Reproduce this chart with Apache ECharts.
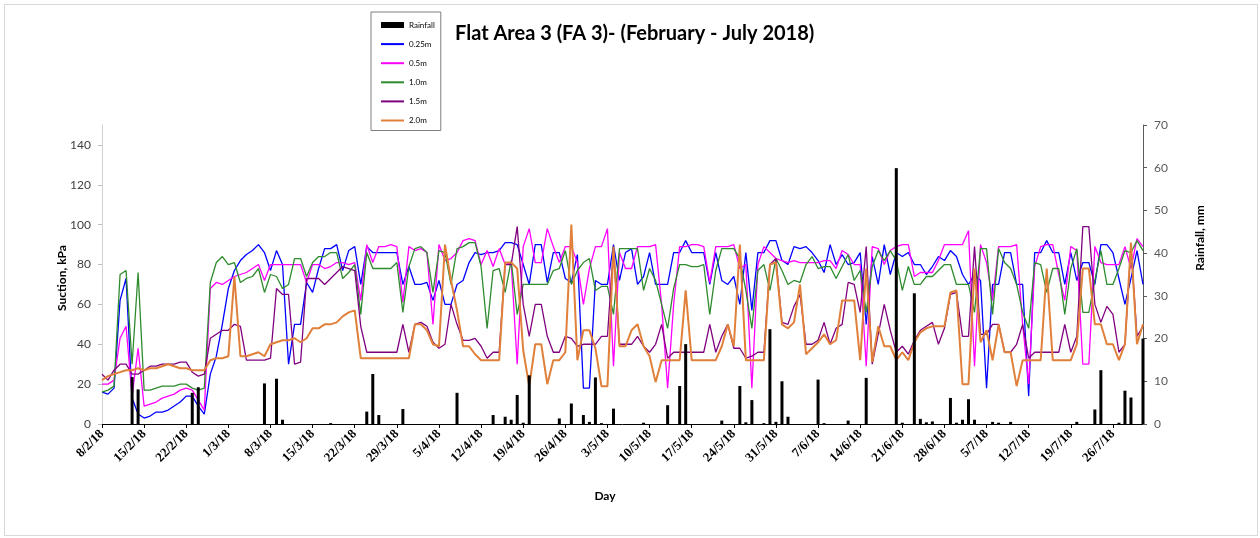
<!DOCTYPE html>
<html><head><meta charset="utf-8">
<script src="https://cdn.jsdelivr.net/npm/echarts@6/dist/echarts.min.js"></script>
<style>
html,body{margin:0;padding:0;background:#fff}
#c{width:1260px;height:538px}
#f{position:absolute;left:4px;top:4px;width:1252px;height:530px;border:1px solid #d9d9d9;pointer-events:none}
</style>
</head><body><div id="c"></div><div id="f"></div>
<script>
// month, first day, last day  (8/2/18 .. 31/7/18)
const monthSpans = [[2,8,28],[3,1,31],[4,1,30],[5,1,31],[6,1,30],[7,1,31]];
const days = [];
monthSpans.forEach(function(m){ for(let d=m[1]; d<=m[2]; d++) days.push(d+'/'+m[0]+'/18'); });

const rainfall = [
0,0,0,0,0,11,8.1,0,0,0,
0,0,0,0,0,7.3,8.6,0,0,0,
0,0,0,0,0,0,0,9.5,0,10.6,
1,0,0,0,0,0,0,0,0.2,0,
0,0,0,0,2.9,11.7,2.1,0,0,0,
3.5,0,0,0,0,0,0,0,0,7.3,
0,0,0,0,0,2.1,0,1.7,1,6.8,
0.3,11.4,0,0,0,0,1.3,0,4.8,0,
2.1,0.5,10.9,0.2,0,3.6,0,0,0,0,
0.3,0,0,0,4.4,0,8.9,18.7,0,0,
0,0,0,0.8,0,0,8.9,0.4,5.6,0,
0.2,22.2,0.5,10,1.7,0,0,0,0,10.4,
0.2,0,0,0,0.8,0,0,10.8,0,0,
0,0,59.9,0.3,0,30.6,1.2,0.4,0.6,0,
0,6.1,0.3,1,5.8,1,0,0,0.5,0.3,
0,0.5,0,0,0,0,0,0,0,0,
0,0,0.5,0,0,3.4,12.6,0,0,0.3,
7.8,6.2,0,20];

const s025 = [
16,15,18,62,73,13,5,3,4,6,
6,7,9,11,14,14,9,5,25,34,
50,68,77,82,85,87,90,86,77,87,
80,30,50,50,71,66,78,88,88,90,
77,87,89,70,89,86,86,86,86,86,
70,79,70,70,71,62,72,60,60,70,
72,81,86,85,86,86,87,91,91,90,
80,70,90,90,71,86,86,73,71,85,
18,18,72,70,70,90,72,86,88,70,
74,86,70,70,70,86,86,92,86,86,
86,70,86,72,70,74,60,86,57,86,
86,92,92,82,80,89,88,89,86,82,
76,90,80,85,80,81,86,50,84,70,
90,75,86,84,86,80,80,75,79,84,
82,87,84,75,70,75,72,18,70,70,
86,86,70,70,14,86,86,92,86,86,
70,86,72,81,81,70,90,90,86,73,
60,73,87,70];

const s05 = [
20,20,22,43,49,14,38,9,10,11,
13,14,15,17,18,17,12,7,68,71,
70,72,74,75,76,78,80,72,80,80,
80,80,80,80,71,80,80,78,79,81,
81,80,81,62,90,81,89,89,90,89,
61,89,87,88,86,50,90,82,83,86,
92,93,92,80,87,79,88,80,81,30,
89,98,81,81,98,89,81,89,89,81,
60,78,89,89,98,29,86,78,78,89,
89,89,90,60,18,60,89,89,90,90,
89,71,89,89,89,90,78,80,18,80,
89,86,83,82,81,82,81,81,81,81,
82,82,78,87,85,80,80,29,89,88,
80,87,89,90,90,74,76,76,76,82,
90,90,90,90,97,29,90,81,62,89,
89,89,90,50,20,79,89,90,90,75,
62,89,87,30,30,89,81,80,80,80,
89,78,93,89];

const s10 = [
16,17,19,75,77,30,76,17,17,18,
19,19,19,20,20,18,17,18,71,81,
84,80,81,71,73,74,78,66,75,74,
68,70,83,83,74,81,84,84,86,86,
73,76,80,55,86,78,78,78,78,81,
56,79,88,89,86,66,87,86,70,88,
89,91,91,79,48,77,78,66,82,55,
70,70,70,70,70,77,78,87,70,77,
81,83,67,69,69,55,88,88,88,88,
67,78,72,60,48,68,80,80,79,79,
80,55,77,88,88,88,83,67,48,77,
80,67,83,77,70,72,71,80,84,78,
79,79,73,79,85,72,77,56,79,87,
82,87,82,67,79,70,70,74,74,77,
80,80,70,70,70,56,88,88,55,88,
81,78,70,56,48,81,80,66,78,78,
55,78,88,56,56,72,87,70,70,78,
87,86,92,87];

const s15 = [
25,22,27,30,30,25,25,27,29,29,
30,30,30,31,31,26,24,25,43,45,
47,47,50,49,32,32,32,32,33,68,
65,65,30,31,73,73,73,70,73,76,
79,78,77,49,36,36,36,36,36,36,
50,36,50,51,49,41,38,40,60,50,
42,42,43,39,33,36,36,80,80,99,
60,44,60,60,44,36,36,44,43,39,
40,40,40,44,44,88,40,40,40,44,
39,36,40,50,33,36,36,36,36,36,
36,50,36,44,50,38,38,33,34,36,
36,80,83,51,50,59,65,40,40,42,
51,40,48,50,71,70,56,89,30,45,
60,47,36,39,35,42,47,49,51,40,
48,65,66,44,44,89,45,45,50,50,
36,36,40,50,33,36,36,36,36,36,
50,36,44,99,99,60,51,59,55,36,
40,89,44,49];

const s20 = [
22,24,25,26,27,27,28,27,28,28,
29,30,29,28,28,27,27,27,32,33,
33,34,74,34,34,35,36,34,40,41,
42,42,43,41,43,48,48,50,50,51,
54,56,57,33,33,33,33,33,33,33,
33,33,50,50,47,40,39,90,72,57,
39,39,35,32,32,32,32,81,81,78,
37,19,40,40,20,32,32,36,100,32,
47,47,38,19,19,89,39,39,47,50,
39,34,21,32,32,32,32,67,32,32,
32,32,32,39,50,39,90,32,32,32,
32,80,81,50,48,51,70,35,38,41,
45,40,42,62,62,62,32,78,31,49,
39,39,32,36,32,41,46,48,49,49,
49,66,67,20,20,78,41,47,32,50,
36,36,19,32,32,32,32,78,32,32,
32,32,40,78,78,50,50,40,40,32,
40,91,40,50];

const seriesNames = ['Rainfall','0.25m','0.5m','1.0m','1.5m','2.0m'];
const lineColors = ['#0000FF','#FF00FF','#2E8B2E','#800080','#E0803A'];
const suctionTicks = [0,150,20];
const rainTicks = [0,70,10];

const font = 'Lato, "Open Sans", sans-serif';
const chart = echarts.init(document.getElementById('c'), null, {renderer:'canvas'});

function lineSeries(name, data, color, width, z){
  return {name:name, type:'line', data:data, yAxisIndex:0, symbol:'none', showSymbol:false,
    lineStyle:{color:color, width:width}, itemStyle:{color:color}, z:z, animation:false};
}
function lineLegend(name){
  return {name:name, itemStyle:{opacity:0, borderWidth:0}};
}

chart.setOption({
  animation:false,
  backgroundColor:'#ffffff',
  title:{text:'Flat Area 3 (FA 3)- (February - July 2018)', left:450, top:19,
    textStyle:{fontFamily:font, fontSize:20, fontWeight:'bold', color:'#000'}},
  legend:{
    orient:'vertical', left:371, top:12, padding:[8,6,5,9],
    itemGap:9.1, itemWidth:23, itemHeight:10,
    borderColor:'#7f7f7f', borderWidth:1, backgroundColor:'#fff',
    textStyle:{fontFamily:font, fontSize:8, color:'#000', lineHeight:10},
    data:[
      {name:seriesNames[0], icon:'path://M0,0L0.01,0M0,10L0.01,10M0,2L23,2L23,8L0,8Z', itemStyle:{color:'#000'}},
      lineLegend(seriesNames[1]), lineLegend(seriesNames[2]), lineLegend(seriesNames[3]),
      lineLegend(seriesNames[4]), lineLegend(seriesNames[5])
    ]
  },
  grid:{left:102, right:117, top:125, bottom:114, containLabel:false},
  xAxis:{
    type:'category', data:days, boundaryGap:false,
    name:'Day', nameLocation:'middle', nameGap:66, nameMoveOverlap:false,
    nameTextStyle:{fontFamily:font, fontSize:12, fontWeight:'bold', color:'#000', padding:[0,35,0,0]},
    axisLine:{lineStyle:{color:'#000', width:1}},
    axisTick:{show:true, interval:6, length:4, lineStyle:{color:'#000'}},
    axisLabel:{interval:6, rotate:45, margin:8, fontFamily:'"Liberation Serif", serif', fontWeight:'bold', fontSize:13, color:'#000'},
    splitLine:{show:false}
  },
  yAxis:[
    {type:'value', min:suctionTicks[0], max:suctionTicks[1], interval:suctionTicks[2],
     name:'Suction, kPa', nameLocation:'middle', nameGap:34, nameMoveOverlap:false,
     nameTextStyle:{fontFamily:font, fontSize:12, fontWeight:'bold', color:'#000', padding:[0,7,0,0]},
     axisLine:{show:true, lineStyle:{color:'#d0d0d0'}},
     axisTick:{show:true, length:4, lineStyle:{color:'#bfbfbf'}},
     axisLabel:{showMaxLabel:false, margin:11, fontFamily:font, fontSize:12, color:'#404040'},
     splitLine:{show:false}},
    {type:'value', min:rainTicks[0], max:rainTicks[1], interval:rainTicks[2], position:'right',
     name:'Rainfall, mm', nameLocation:'middle', nameGap:51, nameMoveOverlap:false,
     nameTextStyle:{fontFamily:font, fontSize:12, fontWeight:'bold', color:'#000', padding:[0,0,0,73]},
     axisLine:{show:true, lineStyle:{color:'#595959'}},
     axisTick:{show:true, length:4, lineStyle:{color:'#595959'}},
     axisLabel:{margin:11, fontFamily:font, fontSize:12, color:'#595959'},
     splitLine:{show:false}}
  ],
  series:[
    {name:seriesNames[0], type:'bar', data:rainfall, yAxisIndex:1, barWidth:3,
     itemStyle:{color:'#000'}, z:5, animation:false},
    lineSeries(seriesNames[1], s025, lineColors[0], 1.3, 3),
    lineSeries(seriesNames[2], s05, lineColors[1], 1.3, 3),
    lineSeries(seriesNames[3], s10, lineColors[2], 1.3, 3),
    lineSeries(seriesNames[4], s15, lineColors[3], 1.3, 3),
    lineSeries(seriesNames[5], s20, lineColors[4], 2, 3)
  ]
});
</script></body></html>
